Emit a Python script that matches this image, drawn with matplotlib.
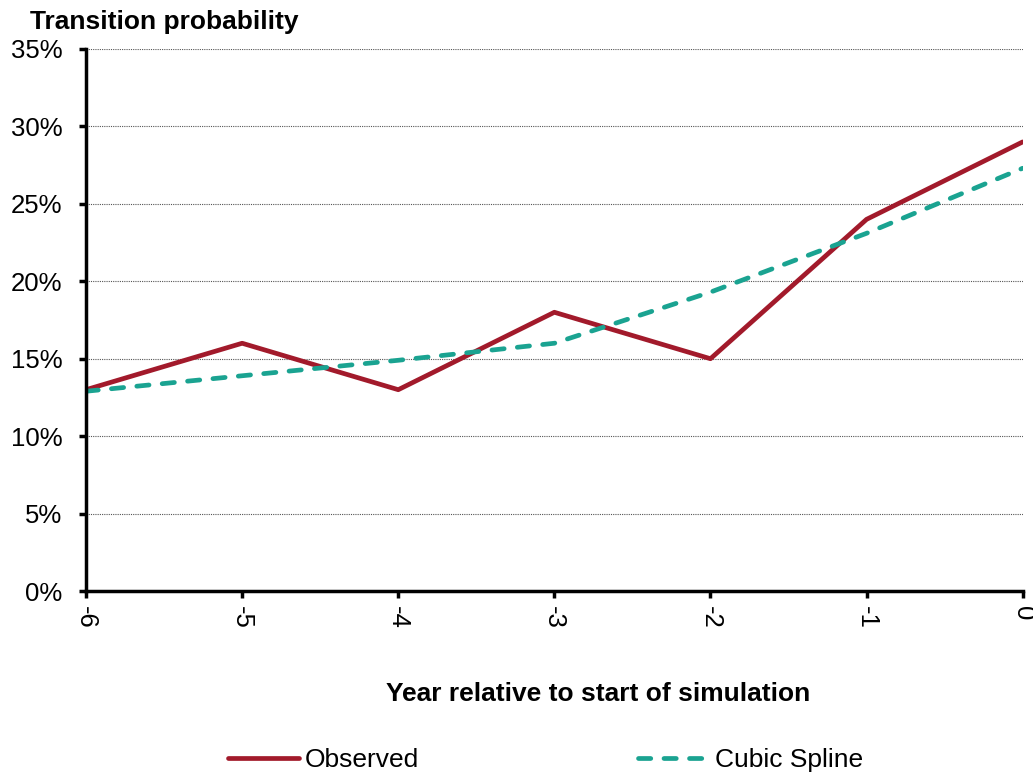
import matplotlib.pyplot as plt
from matplotlib.ticker import FuncFormatter

plt.rcParams['font.family'] = ['Liberation Sans', 'DejaVu Sans']
plt.rcParams['axes.unicode_minus'] = False

years = [-6, -5, -4, -3, -2, -1, 0]
observed = [13.0, 16.0, 13.0, 18.0, 15.0, 24.0, 29.0]
spline = [12.9, 13.9, 14.9, 16.0, 19.3, 23.1, 27.3]

fig = plt.figure(figsize=(10.33, 7.74), dpi=100)
ax = fig.add_axes([0.0833, 0.2364, 0.9067, 0.7003])

ax.plot(years, observed, color='#A21A2B', linewidth=3.4, label='Observed', solid_capstyle='round')
ax.plot(years, spline, color='#1AA391', linewidth=3.4, linestyle=(0, (2.6, 2.8)),
        label='Cubic Spline', dash_capstyle='round')

ax.set_xlim(-6, 0)
ax.set_ylim(0, 35)
ax.set_xticks(years)
ax.set_yticks(range(0, 36, 5))
ax.yaxis.set_major_formatter(FuncFormatter(lambda v, p: f"{v:.0f}%"))
ax.grid(axis='y', color='#555555', linestyle=(0, (1, 1)), linewidth=0.8)
ax.set_axisbelow(True)

for s in ['top', 'right']:
    ax.spines[s].set_visible(False)
for s in ['left', 'bottom']:
    ax.spines[s].set_linewidth(2.5)
ax.tick_params(axis='both', length=5, width=2.5, labelsize=18.5, colors='black')
ax.tick_params(axis='y', pad=12)
ax.tick_params(axis='x', pad=6)
for lbl in ax.get_xticklabels():
    lbl.set_rotation(270)

fig.text(0.029, 0.972, 'Transition probability', fontsize=19, fontweight='bold', va='center')
fig.text(0.579, 0.104, 'Year relative to start of simulation', fontsize=19,
         fontweight='bold', ha='center', va='center')

fig.legend(loc='center', bbox_to_anchor=(0.528, 0.018), ncol=2, frameon=False,
           fontsize=19, handlelength=2.7, handletextpad=0.2, columnspacing=8.3)

fig.savefig('out.png', dpi=100)
